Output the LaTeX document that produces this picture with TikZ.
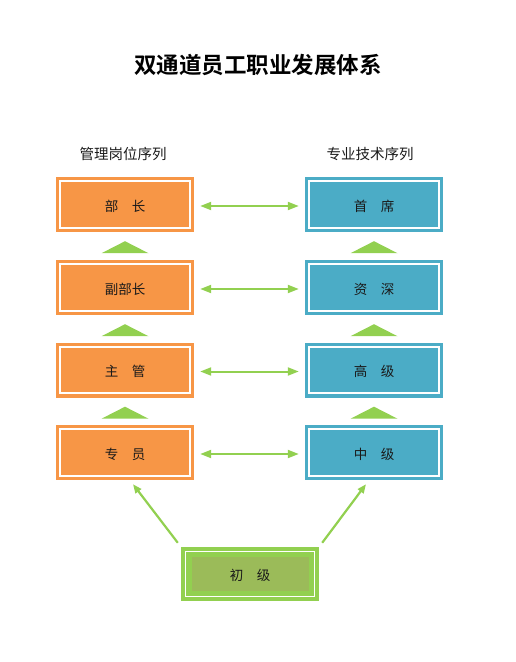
\documentclass[tikz,border=0pt]{standalone}
\usepackage{fontspec}
\setmainfont{Noto Sans CJK SC}
\newfontfamily\titlefont{Noto Sans CJK SC Bold}
\usetikzlibrary{arrows.meta}
\definecolor{orng}{HTML}{F79646}
\definecolor{blu}{HTML}{4BACC6}
\definecolor{grn}{HTML}{92D050}
\definecolor{olv}{HTML}{9BBB59}
\definecolor{txt}{HTML}{1A1A1A}
\newcommand{\lowtxt}[1]{\raisebox{-2pt}{#1}}
\tikzset{
  boxbase/.style={minimum width=138pt,minimum height=55pt,inner sep=0pt,font=\fontsize{13.5}{15}\selectfont,text=txt,text height=11pt,text depth=1.5pt},
  obox/.style={boxbase,fill=orng},
  bbox/.style={boxbase,fill=blu},
  inline/.style={white,line width=1.8pt},
  dbl/.style={grn,line width=2pt,{Triangle[length=11pt,width=8pt]}-{Triangle[length=11pt,width=8pt]}},
  up/.style={grn,line width=2.2pt,-{Triangle[length=9pt,width=7pt]}},
  hdr/.style={font=\fontsize{14.5}{16}\selectfont,text=txt},
}
\begin{document}
\begin{tikzpicture}[x=1pt,y=-1pt]
\useasboundingbox (0,0) rectangle (515,662);
\node[font=\titlefont\fontsize{22.5}{26}\selectfont] (title) at (258,65) {双通道员工职业发展体系};
\node[hdr] (hl) at (123,154) {管理岗位序列};
\node[hdr] (hr) at (370,154) {专业技术序列};

\node[obox] (l1) at (125,204.5) {\lowtxt{部\quad 长}};
\node[obox] (l2) at (125,287.5) {\lowtxt{副部长}};
\node[obox] (l3) at (125,370) {\lowtxt{主\quad 管}};
\node[obox] (l4) at (125,452.5) {\lowtxt{专\quad 员}};

\node[bbox] (r1) at (374,204.5) {\lowtxt{首\quad 席}};
\node[bbox] (r2) at (374,287.5) {\lowtxt{资\quad 深}};
\node[bbox] (r3) at (374,370) {\lowtxt{高\quad 级}};
\node[bbox] (r4) at (374,452.5) {\lowtxt{中\quad 级}};

\foreach \n in {l1,l2,l3,l4,r1,r2,r3,r4}{
  \draw[inline] ([shift={(4.5pt,-4.5pt)}]\n.north west) rectangle ([shift={(-4.5pt,4.5pt)}]\n.south east);
}

\foreach \i in {1,...,4}{
  \draw[dbl] ([shift={(6pt,-1.5pt)}]l\i.east) -- ([shift={(-6pt,-1.5pt)}]r\i.west);
}
\foreach \b in {l1,l2,l3,r1,r2,r3}{
  \fill[grn] ([yshift=-9pt]\b.south) -- ([shift={(-23.5pt,-21pt)}]\b.south) -- ([shift={(23.5pt,-21pt)}]\b.south) -- cycle;
}

\node[minimum width=138pt,minimum height=54pt,inner sep=0pt,fill=grn] (init) at (250,574) {};
\draw[white,line width=1.2pt] ([shift={(4.5pt,-4.5pt)}]init.north west) rectangle ([shift={(-4.5pt,4.5pt)}]init.south east);
\fill[olv] ([shift={(11pt,-10pt)}]init.north west) rectangle ([shift={(-10pt,10pt)}]init.south east);
\node[font=\fontsize{13.5}{15}\selectfont,text=txt,text height=11pt,text depth=1.5pt] (initlbl) at (init.center) {\lowtxt{初\quad 级}};

\draw[up] ([shift={(-3pt,4pt)}]init.north west) -- ([shift={(8pt,-4pt)}]l4.south);
\draw[up] ([shift={(3pt,4pt)}]init.north east) -- ([shift={(-8pt,-4pt)}]r4.south);
\end{tikzpicture}
\end{document}
